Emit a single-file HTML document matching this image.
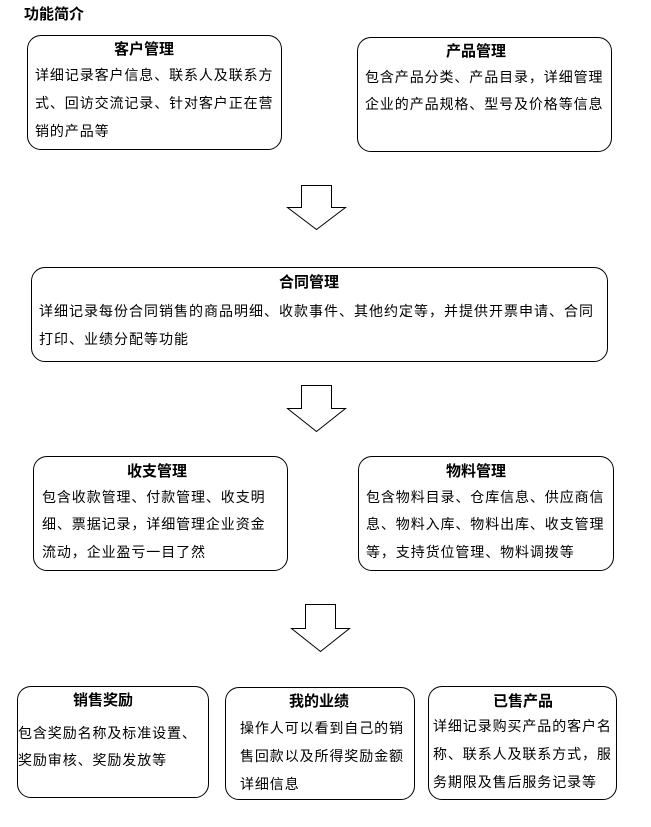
<!DOCTYPE html>
<html><head><meta charset="utf-8"><style>
body{margin:0;width:651px;height:827px;background:#fff;position:relative;font-family:"Liberation Sans","Noto Sans CJK SC","WenQuanYi Zen Hei",sans-serif;color:#000;overflow:hidden}
.b{position:absolute;border:1px solid #000;border-radius:14px;box-sizing:border-box}
.t{position:absolute;font-size:15px;font-weight:bold;white-space:nowrap;line-height:18px}
.l{position:absolute;font-size:14px;white-space:nowrap;line-height:18px;letter-spacing:0.9px}
.w{letter-spacing:1px}
</style></head><body>
<div class="t" style="left:24px;top:6px">功能简介</div>

<div class="b" style="left:27px;top:35px;width:255px;height:115px"></div>
<div class="t" style="left:114px;top:41px">客户管理</div>
<div class="l" style="left:35px;top:66px">详细记录客户信息、联系人及联系方</div>
<div class="l" style="left:35px;top:94px">式、回访交流记录、针对客户正在营</div>
<div class="l" style="left:35px;top:122px">销的产品等</div>

<div class="b" style="left:357px;top:37px;width:255px;height:115px"></div>
<div class="t" style="left:446px;top:43px">产品管理</div>
<div class="l" style="left:365px;top:68px">包含产品分类、产品目录，详细管理</div>
<div class="l" style="left:365px;top:95px">企业的产品规格、型号及价格等信息</div>

<svg style="position:absolute;left:0;top:0" width="651" height="827">
<g fill="#fff" stroke="#000" stroke-width="1">
<polygon points="301.5,185.5 331.5,185.5 331.5,207.5 345.5,207.5 316.5,229.5 287.5,207.5 301.5,207.5"/>
<polygon points="301.5,385.5 331.5,385.5 331.5,408.5 345.5,408.5 316.5,431.5 287.5,408.5 301.5,408.5"/>
<polygon points="305.5,604.5 335.5,604.5 335.5,628.5 349.5,628.5 320.5,651.5 291.5,628.5 305.5,628.5"/>
</g></svg>

<div class="b" style="left:31px;top:267px;width:577px;height:95px"></div>
<div class="t" style="left:279px;top:274px">合同管理</div>
<div class="l w" style="left:39px;top:302px">详细记录每份合同销售的商品明细、收款事件、其他约定等，并提供开票申请、合同</div>
<div class="l w" style="left:39px;top:330px">打印、业绩分配等功能</div>

<div class="b" style="left:33px;top:456px;width:255px;height:115px"></div>
<div class="t" style="left:127px;top:463px">收支管理</div>
<div class="l" style="left:42px;top:488px">包含收款管理、付款管理、收支明</div>
<div class="l" style="left:42px;top:515px">细、票据记录，详细管理企业资金</div>
<div class="l" style="left:42px;top:543px">流动，企业盈亏一目了然</div>

<div class="b" style="left:358px;top:456px;width:256px;height:115px"></div>
<div class="t" style="left:446px;top:463px">物料管理</div>
<div class="l" style="left:366px;top:488px">包含物料目录、仓库信息、供应商信</div>
<div class="l" style="left:366px;top:515px">息、物料入库、物料出库、收支管理</div>
<div class="l" style="left:366px;top:543px">等，支持货位管理、物料调拨等</div>

<div class="b" style="left:17px;top:686px;width:192px;height:112px"></div>
<div class="t" style="left:73px;top:692px">销售奖励</div>
<div class="l" style="left:18px;top:724px">包含奖励名称及标准设置、</div>
<div class="l" style="left:18px;top:751px">奖励审核、奖励发放等</div>

<div class="b" style="left:225px;top:687px;width:190px;height:113px"></div>
<div class="t" style="left:289px;top:693px">我的业绩</div>
<div class="l" style="left:240px;top:719px">操作人可以看到自己的销</div>
<div class="l" style="left:240px;top:747px">售回款以及所得奖励金额</div>
<div class="l" style="left:240px;top:775px">详细信息</div>

<div class="b" style="left:428px;top:686px;width:189px;height:114px"></div>
<div class="t" style="left:493px;top:693px">已售产品</div>
<div class="l" style="left:433px;top:717px">详细记录购买产品的客户名</div>
<div class="l" style="left:433px;top:745px">称、联系人及联系方式，服</div>
<div class="l" style="left:433px;top:773px">务期限及售后服务记录等</div>
</body></html>
